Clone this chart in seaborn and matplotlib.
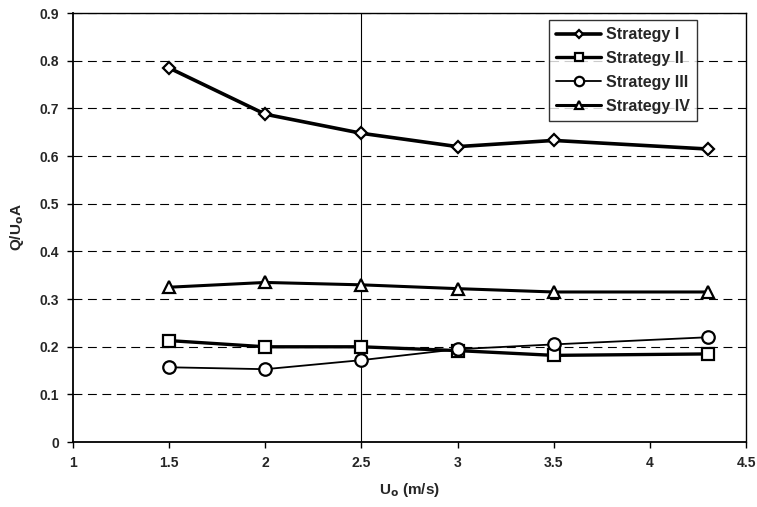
import numpy as np
import pandas as pd
import matplotlib
matplotlib.use("Agg")
import matplotlib.pyplot as plt
import seaborn as sns

# data
u0 = [1.5, 2.0, 2.5, 3.0, 3.5, 4.3]
strategy_1 = [0.785, 0.688, 0.648, 0.620, 0.633, 0.615]
strategy_2 = [0.213, 0.200, 0.200, 0.192, 0.182, 0.185]
strategy_3 = [0.157, 0.153, 0.172, 0.195, 0.205, 0.220]
strategy_4 = [0.325, 0.335, 0.330, 0.322, 0.315, 0.315]
names = ["Strategy I", "Strategy II", "Strategy III", "Strategy IV"]
x_ticks = [1, 1.5, 2, 2.5, 3, 3.5, 4, 4.5]
x_labels = ["1", "1.5", "2", "2.5", "3", "3.5", "4", "4.5"]
y_ticks = [0, 0.1, 0.2, 0.3, 0.4, 0.5, 0.6, 0.7, 0.8, 0.9]
y_labels = ["0", "0.1", "0.2", "0.3", "0.4", "0.5", "0.6", "0.7", "0.8", "0.9"]

df = pd.DataFrame({
    "U0": u0 * 4,
    "Q": strategy_1 + strategy_2 + strategy_3 + strategy_4,
    "Strategy": [n for n in names for _ in u0],
})

sns.set_style("white")
plt.rcParams["font.family"] = ["Liberation Sans", "DejaVu Sans"]
plt.rcParams["font.weight"] = "bold"

fig = plt.figure(figsize=(7.57, 5.07), dpi=100)
ax = fig.add_axes([0.0964, 0.128, 0.8891, 0.846])

# styles per strategy
markers = {"Strategy I": "D", "Strategy II": "s", "Strategy III": "o", "Strategy IV": "^"}
msizes = {"Strategy I": 6, "Strategy II": 8, "Strategy III": 9, "Strategy IV": 8}
lwidths = {"Strategy I": 2.6, "Strategy II": 2.4, "Strategy III": 1.3, "Strategy IV": 2.2}

# grid first
for yt in y_ticks[1:]:
    ax.axhline(yt, color="black", lw=0.8, ls=(0, (8, 5)), zorder=0)
ax.axvline(2.5, color="black", lw=0.8, zorder=0)

for n in names:
    sub = df[df["Strategy"] == n]
    sns.lineplot(data=sub, x="U0", y="Q", ax=ax, color="black",
                 lw=lwidths[n], marker=markers[n], markersize=msizes[n],
                 markerfacecolor="white", markeredgecolor="black",
                 markeredgewidth=1.6, label=n, zorder=3)

ax.set_xlim(1, 4.5)
ax.set_ylim(0, 0.9)
ax.set_xticks(x_ticks)
ax.set_xticklabels(x_labels, fontsize=10, fontweight="bold")
ax.set_yticks(y_ticks)
ax.set_yticklabels(y_labels, fontsize=10, fontweight="bold")
ax.tick_params(direction="out", length=4, width=1, color="black",
               left=True, bottom=True, pad=6)
for s in ax.spines.values():
    s.set_color("black")
    s.set_linewidth(1.0)
ax.spines["left"].set_linewidth(1.3)
ax.spines["bottom"].set_linewidth(1.3)

ax.set_xlabel("U$_\\mathbf{o}$ (m/s)", fontsize=11, fontweight="bold", labelpad=8)
ax.set_ylabel("Q/U$_\\mathbf{o}$A", fontsize=11, fontweight="bold", labelpad=10)

leg = ax.legend(loc="upper right", bbox_to_anchor=(0.927, 0.984), frameon=True,
                fancybox=False, edgecolor="black", fontsize=11.5,
                handlelength=2.8, handletextpad=0.3, borderpad=0.45,
                labelspacing=0.55, markerscale=0.75, borderaxespad=0)
leg.get_frame().set_linewidth(1.0)
for t in leg.get_texts():
    t.set_fontweight("bold")

fig.savefig("out.png", dpi=100)
